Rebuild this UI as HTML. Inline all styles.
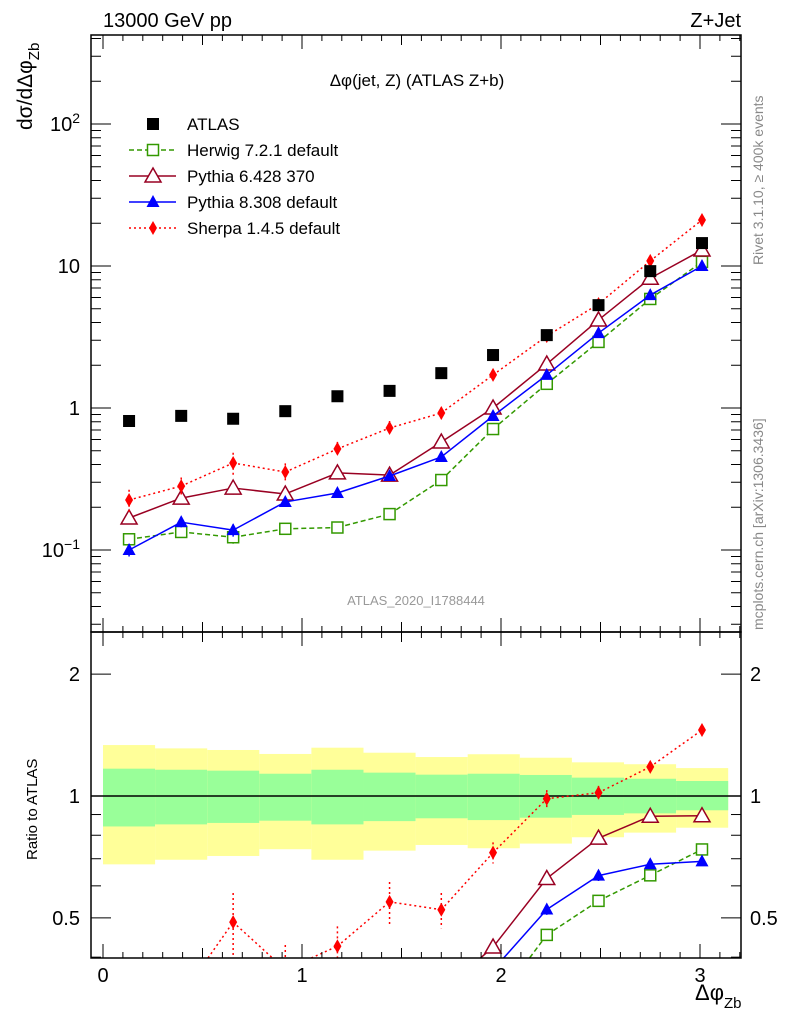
<!DOCTYPE html>
<html><head><meta charset="utf-8"><style>
html,body{margin:0;padding:0;background:#fff;overflow:hidden;width:786px;height:1024px;}
svg{display:block;font-family:"Liberation Sans","DejaVu Sans",sans-serif;}
</style></head><body>
<svg id="c" width="786" height="1024" xmlns="http://www.w3.org/2000/svg">
<defs>
<clipPath id="cm"><rect x="91" y="35" width="650" height="597"/></clipPath>
<clipPath id="cr"><rect x="91" y="632" width="650" height="326"/></clipPath>
</defs>
<g id="bands" clip-path="url(#cr)"></g>
<line x1="91" x2="741" y1="796" y2="796" stroke="#000" stroke-width="1.5"/>
<g id="marks"></g>
<rect x="91" y="35" width="650" height="597" fill="none" stroke="#000" stroke-width="1.5"/>
<rect x="91" y="632" width="650" height="326" fill="none" stroke="#000" stroke-width="1.5"/>
<g id="ticks" stroke="#000" stroke-width="1"></g>
<g id="labels" font-size="20"></g>
<text x="103" y="27" font-size="20">13000 GeV pp</text>
<text x="741" y="27" font-size="20" text-anchor="end">Z+Jet</text>
<text x="417" y="86" font-size="17" text-anchor="middle">Δφ(jet, Z) (ATLAS Z+b)</text>
<text x="416" y="605" font-size="13" fill="#999" text-anchor="middle">ATLAS_2020_I1788444</text>
<text transform="translate(763,265) rotate(-90)" font-size="14" fill="#888">Rivet 3.1.10, ≥ 400k events</text>
<text transform="translate(763,630) rotate(-90)" font-size="14" fill="#888">mcplots.cern.ch [arXiv:1306.3436]</text>
<text transform="translate(32,130) rotate(-90)" font-size="21">dσ/dΔφ<tspan font-size="15" dy="7">Zb</tspan></text>
<text transform="translate(37,860) rotate(-90)" font-size="15">Ratio to ATLAS</text>
<text x="695" y="1000" font-size="22">Δφ<tspan font-size="15" dy="8">Zb</tspan></text>
<g id="legend" font-size="17"></g>
</svg>
<script>
const binEdges=[0,0.2618,0.5236,0.7854,1.0472,1.309,1.5708,1.8326,2.0944,2.3562,2.618,2.8798,3.1416];
const xCenters=[0.131,0.393,0.654,0.916,1.178,1.44,1.70,1.96,2.23,2.49,2.75,3.01];
const atlas=[0.81,0.88,0.84,0.95,1.21,1.32,1.76,2.36,3.26,5.3,9.2,14.5];
const herwig=[0.119,0.134,0.123,0.141,0.144,0.179,0.311,0.711,1.48,2.92,5.86,10.7];
const pythia6=[0.168,0.232,0.273,0.248,0.349,0.337,0.576,1.0,2.04,4.17,8.2,12.96];
const pythia8=[0.1,0.157,0.138,0.218,0.252,0.332,0.452,0.878,1.71,3.37,6.24,10.0];
const sherpa=[0.225,0.282,0.41,0.354,0.515,0.723,0.922,1.71,3.21,5.4,10.86,21.1];
const sherpaErr=[0.18,0.15,0.18,0.15,0.12,0.12,0.1,0.06,0.05,0.04,0.03,0.02];
const otherErr=[0.1,0.08,0.1,0.06,0.05,0.04,0.04,0.03,0.03,0.03,0.02,0.02];
const yellowUp=[1.336,1.311,1.299,1.270,1.316,1.279,1.248,1.268,1.243,1.211,1.198,1.172];
const yellowDn=[0.678,0.696,0.711,0.739,0.696,0.733,0.757,0.743,0.763,0.791,0.812,0.835];
const greenUp=[1.168,1.161,1.155,1.135,1.161,1.142,1.129,1.135,1.127,1.110,1.103,1.089];
const greenDn=[0.841,0.851,0.858,0.869,0.851,0.867,0.881,0.872,0.884,0.898,0.906,0.922];
const xTicks=[0,1,2,3];
const NS="http://www.w3.org/2000/svg";
const X=v=>103+199*v;
const Y=v=>408-142*Math.log10(v);
const R=v=>796-405*Math.log10(v);
function mk(tag,attrs,parent){const e=document.createElementNS(NS,tag);for(const k in attrs)e.setAttribute(k,attrs[k]);parent.appendChild(e);return e;}
const bands=document.getElementById('bands'),marks=document.getElementById('marks'),ticks=document.getElementById('ticks'),labels=document.getElementById('labels'),legend=document.getElementById('legend');
for(let i=0;i<12;i++){
 let r=mk('rect',{x:X(binEdges[i]),width:X(binEdges[i+1])-X(binEdges[i]),y:R(yellowUp[i]),height:R(yellowDn[i])-R(yellowUp[i]),fill:'#ffff99'},bands);
 
 
 let g=mk('rect',{x:X(binEdges[i]),width:X(binEdges[i+1])-X(binEdges[i]),y:R(greenUp[i]),height:R(greenDn[i])-R(greenUp[i]),fill:'#99ff99'},bands);
 
 
}
function marker(type,x,y,col,parent){
 let e;
 if(type==='sq')e=mk('rect',{x:x-6,y:y-6,width:12,height:12,fill:'#000'},parent);
 if(type==='osq')e=mk('rect',{x:x-5.5,y:y-5.5,width:11,height:11,fill:'#fff',stroke:col,'stroke-width':1.5},parent);
 if(type==='otri')e=mk('path',{d:`M${x},${y-8}L${x+8},${y+6}L${x-8},${y+6}Z`,fill:'#fff',stroke:col,'stroke-width':1.5},parent);
 if(type==='tri')e=mk('path',{d:`M${x},${y-7}L${x+6.5},${y+5}L${x-6.5},${y+5}Z`,fill:col},parent);
 if(type==='dia')e=mk('path',{d:`M${x},${y-7}L${x+4},${y}L${x},${y+7}L${x-4},${y}Z`,fill:col},parent);
 return e;
}
function clipSeg(x1,y1,x2,y2,ylo,yhi){
 let t0=0,t1=1;const dy=y2-y1;
 if(dy===0){return (y1<ylo||y1>yhi)?null:[x1,y1,x2,y2];}
 let ta=(ylo-y1)/dy,tb=(yhi-y1)/dy;if(ta>tb){const t=ta;ta=tb;tb=t;}
 t0=Math.max(t0,ta);t1=Math.min(t1,tb);if(t0>t1)return null;
 return [x1+(x2-x1)*t0,y1+dy*t0,x1+(x2-x1)*t1,y1+dy*t1];
}
const series=[
 {name:'herwig',vals:herwig,err:otherErr,col:'#339900',dash:'5,3',m:'osq'},
 {name:'pythia6',vals:pythia6,err:otherErr,col:'#990022',dash:'',m:'otri'},
 {name:'pythia8',vals:pythia8,err:otherErr,col:'#0000ff',dash:'',m:'tri'},
 {name:'sherpa',vals:sherpa,err:sherpaErr,col:'#ff0000',dash:'2,3',m:'dia'}
];
const gm=mk('g',{'clip-path':'url(#cm)'},marks);
const gr=mk('g',{'clip-path':'url(#cr)'},marks);
series.forEach(s=>{
 [[gm,i=>Y(s.vals[i]),(i,f)=>Y(s.vals[i]*f),35,632],[gr,i=>R(s.vals[i]/atlas[i]),(i,f)=>R(s.vals[i]/atlas[i]*f),632,958]].forEach(([p,fy,fe,lo,hi])=>{
  for(let i=0;i<xCenters.length-1;i++){
   const c=clipSeg(X(xCenters[i]),fy(i),X(xCenters[i+1]),fy(i+1),lo,hi);
   if(!c)continue;
   const l=mk('line',{x1:c[0],y1:c[1],x2:c[2],y2:c[3],stroke:s.col,'stroke-width':1.5,'stroke-dasharray':s.dash},p);
   
   
  }
  xCenters.forEach((x,i)=>{
   const ya=Math.max(lo,Math.min(hi,fe(i,1+s.err[i]))),yb=Math.max(lo,Math.min(hi,fe(i,1-s.err[i])));
   if(ya!==yb){
    const eb=mk('line',{x1:X(x),x2:X(x),y1:ya,y2:yb,stroke:s.col,'stroke-width':1.5,'stroke-dasharray':s.dash},p);
    
    
   }
   const y=fy(i);
   if(y<lo-8||y>hi+8)return;
   const m=marker(s.m,X(x),y,s.col,p);
   
   
  });
 });
});
xCenters.forEach((x,i)=>{
 const m=marker('sq',X(x),Y(atlas[i]),'#000',gm);
 
 
});
for(let k=0;k<=32;k++){const v=k/10;const len=(k%5===0)?(k%10===0?14:10):6;
 [[632,-1],[35,1],[958,-1],[632,1]].forEach(([yb,d])=>mk('line',{x1:X(v),x2:X(v),y1:yb,y2:yb+d*len},ticks));}
xTicks.forEach(v=>{const t=mk('text',{x:X(v),y:982,'text-anchor':'middle'},labels);t.textContent=v;
 
 });
for(let d=-2;d<=2;d++)for(let m=1;m<=9;m++){const v=m*Math.pow(10,d);const y=Y(v);if(y<35||y>632)continue;const len=m===1?20:10;
 mk('line',{x1:91,x2:91+len,y1:y,y2:y},ticks);mk('line',{x1:741,x2:741-len,y1:y,y2:y},ticks);}
[[100,'10<tspan dy="-8" font-size="14">2</tspan>'],[10,'10'],[1,'1'],[0.1,'10<tspan dy="-8" font-size="14">−1</tspan>']].forEach(([v,s])=>{
 const t=mk('text',{x:80,y:Y(v)+7,'text-anchor':'end'},labels);t.innerHTML=s;
 
 });
[0.4,0.5,0.6,0.7,0.8,0.9,1,2].forEach(v=>{const y=R(v);const len=(v===0.5||v===1||v===2)?20:10;
 mk('line',{x1:91,x2:91+len,y1:y,y2:y},ticks);mk('line',{x1:741,x2:741-len,y1:y,y2:y},ticks);
 if(len===20){const a=mk('text',{x:80,y:y+7,'text-anchor':'end'},labels);a.textContent=v;
  
  
  const b=mk('text',{x:750,y:y+7},labels);b.textContent=v;
  
  }});
const leg=[['ATLAS','#000','','sq'],['Herwig 7.2.1 default','#339900','5,3','osq'],['Pythia 6.428 370','#990022','','otri'],['Pythia 8.308 default','#0000ff','','tri'],['Sherpa 1.4.5 default','#ff0000','2,3','dia']];
leg.forEach((e,i)=>{const y=124+26*i;const g=mk('g',{},legend);
 
 
 if(i>0)mk('line',{x1:129,x2:176,y1:y,y2:y,stroke:e[1],'stroke-width':1.5,'stroke-dasharray':e[2]},g);
 marker(e[3],153,y,e[1],g);
 const t=mk('text',{x:187,y:y+6},g);t.textContent=e[0];});
</script>
</body></html>
